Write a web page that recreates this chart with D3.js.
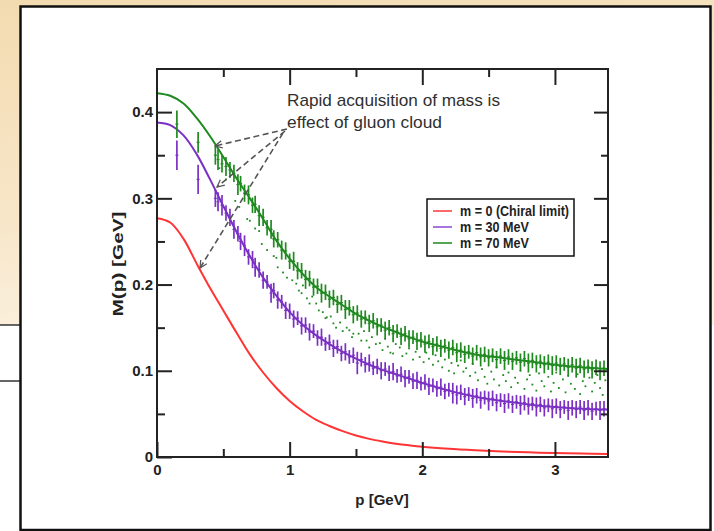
<!DOCTYPE html>
<html>
<head>
<meta charset="utf-8">
<script src="https://cdn.jsdelivr.net/npm/d3@7"></script>
<style>
  html, body { margin: 0; padding: 0; background: #ffffff; }
  svg { display: block; }
  text { font-family: "Liberation Sans", Arial, sans-serif; }
</style>
</head>
<body>
<script>
// ---------- DATA ----------
// smooth DSE curves
const pCurve = [0,0.1,0.2,0.3,0.4,0.5,0.6,0.7,0.8,0.9,1.0,1.1,1.2,1.3,1.4,1.5,1.6,1.7,1.8,1.9,2.0,2.2,2.4,2.6,2.8,3.0,3.2,3.4];
const mChiral = [0.277,0.272,0.253,0.224,0.196,0.170,0.144,0.119,0.098,0.080,0.065,0.053,0.043,0.036,0.030,0.025,0.021,0.018,0.0155,0.0135,0.0118,0.0095,0.0078,0.0064,0.0054,0.0046,0.0040,0.0035];
const m30 = [0.388,0.385,0.373,0.351,0.322,0.291,0.261,0.233,0.208,0.187,0.168,0.153,0.141,0.131,0.122,0.114,0.107,0.101,0.096,0.091,0.086,0.077,0.070,0.065,0.061,0.058,0.056,0.055];
const m70 = [0.422,0.419,0.410,0.393,0.372,0.348,0.323,0.300,0.276,0.251,0.230,0.212,0.197,0.186,0.176,0.166,0.158,0.151,0.145,0.139,0.134,0.126,0.119,0.115,0.111,0.107,0.104,0.102];

// lattice points (momentum shared by both masses)
const pLat = [0.15,0.31,0.44,0.46,0.49,0.52,0.55,0.58,0.61,0.63,0.66,0.69,0.72,0.74,0.77,0.80,0.83,0.86,0.88,0.91,0.94,0.97,1.00,1.03,1.06,1.09,1.12,1.15,1.18,1.21,1.24,1.27,1.30,1.33,1.36,1.39,1.42,1.45,1.48,1.51,1.54,1.57,1.60,1.63,1.66,1.69,1.72,1.75,1.78,1.81,1.84,1.87,1.90,1.93,1.96,1.99,2.02,2.05,2.08,2.11,2.14,2.17,2.20,2.23,2.26,2.29,2.32,2.35,2.38,2.41,2.44,2.47,2.50,2.53,2.56,2.59,2.62,2.65,2.68,2.71,2.74,2.77,2.80,2.83,2.86,2.89,2.92,2.95,2.98,3.01,3.04,3.07,3.10,3.13,3.16,3.19,3.22,3.25,3.28,3.31,3.34,3.37];
const lat30 = [0.350,0.322,0.300,0.296,0.292,0.283,0.278,0.264,0.259,0.250,0.245,0.232,0.229,0.220,0.217,0.205,0.203,0.190,0.193,0.182,0.180,0.170,0.169,0.160,0.161,0.152,0.153,0.145,0.146,0.138,0.139,0.131,0.133,0.126,0.128,0.120,0.122,0.116,0.118,0.109,0.113,0.107,0.109,0.103,0.105,0.100,0.102,0.097,0.099,0.094,0.096,0.091,0.093,0.088,0.089,0.085,0.087,0.082,0.083,0.079,0.081,0.076,0.078,0.074,0.072,0.075,0.070,0.073,0.068,0.071,0.066,0.069,0.065,0.068,0.063,0.066,0.062,0.065,0.061,0.064,0.060,0.063,0.059,0.062,0.058,0.061,0.057,0.060,0.056,0.059,0.055,0.058,0.054,0.057,0.055,0.058,0.054,0.057,0.053,0.056,0.054,0.056];
const err30 = [0.017,0.017,0.010,0.011,0.012,0.009,0.010,0.011,0.009,0.010,0.012,0.009,0.010,0.011,0.009,0.010,0.008,0.011,0.009,0.010,0.008,0.010,0.009,0.010,0.008,0.010,0.009,0.010,0.008,0.009,0.010,0.008,0.009,0.010,0.008,0.009,0.010,0.008,0.009,0.013,0.008,0.009,0.010,0.008,0.009,0.010,0.008,0.009,0.010,0.008,0.009,0.010,0.008,0.009,0.010,0.008,0.009,0.010,0.008,0.009,0.010,0.009,0.008,0.012,0.011,0.009,0.010,0.008,0.011,0.009,0.010,0.008,0.011,0.009,0.010,0.008,0.011,0.009,0.010,0.008,0.011,0.009,0.010,0.008,0.011,0.009,0.010,0.008,0.011,0.009,0.010,0.008,0.011,0.009,0.010,0.008,0.011,0.009,0.010,0.008,0.011,0.009];
const lat70 = [0.386,0.365,0.350,0.345,0.340,0.337,0.333,0.329,0.316,0.317,0.306,0.304,0.292,0.293,0.280,0.278,0.266,0.264,0.253,0.252,0.240,0.239,0.227,0.227,0.216,0.216,0.206,0.207,0.197,0.198,0.190,0.191,0.183,0.185,0.177,0.179,0.171,0.173,0.165,0.167,0.160,0.162,0.155,0.158,0.151,0.153,0.147,0.150,0.143,0.146,0.140,0.143,0.137,0.139,0.134,0.136,0.131,0.134,0.128,0.131,0.126,0.129,0.124,0.127,0.121,0.124,0.119,0.122,0.117,0.121,0.116,0.119,0.115,0.118,0.113,0.117,0.112,0.116,0.111,0.115,0.110,0.114,0.109,0.112,0.108,0.111,0.107,0.110,0.106,0.109,0.105,0.108,0.104,0.107,0.103,0.106,0.102,0.105,0.101,0.104,0.100,0.103];
const err70 = [0.016,0.012,0.011,0.012,0.010,0.011,0.009,0.010,0.012,0.009,0.010,0.011,0.009,0.010,0.012,0.010,0.009,0.011,0.010,0.009,0.011,0.010,0.009,0.011,0.010,0.009,0.011,0.009,0.010,0.009,0.011,0.009,0.010,0.009,0.010,0.009,0.011,0.009,0.010,0.009,0.010,0.008,0.010,0.009,0.010,0.008,0.010,0.009,0.010,0.008,0.010,0.009,0.010,0.008,0.010,0.009,0.010,0.008,0.010,0.009,0.010,0.008,0.010,0.009,0.011,0.009,0.010,0.008,0.010,0.009,0.011,0.009,0.010,0.008,0.010,0.009,0.011,0.009,0.010,0.008,0.010,0.009,0.011,0.009,0.010,0.008,0.010,0.009,0.011,0.009,0.010,0.008,0.010,0.009,0.011,0.009,0.010,0.008,0.010,0.009,0.011,0.009];

// additional green lattice points drawn as small dots
const dotP = [0.47,0.52,0.59,0.62,0.68,0.70,0.74,0.77,0.79,0.83,0.88,0.90,0.91,0.95,0.98,1.02,1.05,1.07,1.09,1.10,1.13,1.15,1.17,1.20,1.22,1.25,1.27,1.28,1.31,1.33,1.35,1.38,1.40,1.43,1.45,1.47,1.48,1.52,1.54,1.56,1.58,1.60,1.62,1.65,1.68,1.70,1.72,1.74,1.76,1.78,1.80,1.83,1.85,1.88,1.90,1.93,1.95,1.98,2.01,2.03,2.05,2.08,2.10,2.12,2.15,2.17,2.20,2.22,2.24,2.27,2.29,2.31,2.33,2.36,2.38,2.40,2.42,2.45,2.47,2.49,2.52,2.54,2.56,2.58,2.61,2.63,2.65,2.67,2.70,2.72,2.74,2.77,2.79,2.81,2.83,2.86,2.88,2.90,2.92,2.95,2.97,2.99,3.01,3.03,3.06,3.08,3.10,3.12,3.15,3.17,3.19,3.21,3.23,3.26,3.28,3.30,3.32,3.34,3.36,3.38];
const dotM = [0.335,0.322,0.297,0.290,0.276,0.274,0.265,0.262,0.247,0.240,0.233,0.231,0.220,0.214,0.208,0.205,0.201,0.193,0.190,0.199,0.184,0.178,0.186,0.178,0.170,0.168,0.161,0.162,0.163,0.155,0.150,0.156,0.146,0.150,0.147,0.139,0.143,0.143,0.135,0.146,0.135,0.127,0.139,0.131,0.132,0.124,0.137,0.128,0.121,0.120,0.131,0.127,0.117,0.120,0.126,0.113,0.122,0.116,0.110,0.121,0.114,0.107,0.118,0.111,0.104,0.113,0.100,0.109,0.097,0.106,0.112,0.099,0.103,0.094,0.108,0.098,0.089,0.102,0.093,0.085,0.099,0.090,0.104,0.083,0.095,0.088,0.098,0.081,0.092,0.086,0.100,0.079,0.090,0.095,0.084,0.077,0.097,0.088,0.082,0.093,0.076,0.086,0.098,0.080,0.090,0.075,0.094,0.085,0.079,0.096,0.073,0.088,0.082,0.092,0.076,0.086,0.095,0.080,0.072,0.089];

const xTicks = [0, 1, 2, 3];
const xMinor = [0.5, 1.5, 2.5];
const yTicks = [0, 0.1, 0.2, 0.3, 0.4];
const yMinor = [0.05, 0.15, 0.25, 0.35];
const legendLabels = ["m = 0 (Chiral limit)", "m = 30 MeV", "m = 70 MeV"];
const annotationLines = ["Rapid acquisition of mass is", "effect of gluon cloud"];

// ---------- DRAWING ----------
const W = 714, H = 531;
const svg = d3.select("body").append("svg").attr("width", W).attr("height", H);
const defs = svg.append("defs");

const bg = defs.append("linearGradient").attr("id", "parch").attr("x1", 0).attr("y1", 0).attr("x2", 0.35).attr("y2", 1);
bg.append("stop").attr("offset", "0%").attr("stop-color", "#f3dbb0");
bg.append("stop").attr("offset", "60%").attr("stop-color", "#f7e6c8");
bg.append("stop").attr("offset", "100%").attr("stop-color", "#fcf2e2");

svg.append("rect").attr("x", 0).attr("y", 0).attr("width", W).attr("height", 325).attr("fill", "url(#parch)");
svg.append("rect").attr("x", 0).attr("y", 325).attr("width", W).attr("height", H - 325).attr("fill", "#ffffff");
svg.append("line").attr("x1", 0).attr("x2", 20).attr("y1", 325).attr("y2", 325).attr("stroke", "#333").attr("stroke-width", 1.5);
svg.append("line").attr("x1", 0).attr("x2", 20).attr("y1", 381).attr("y2", 381).attr("stroke", "#333").attr("stroke-width", 1.5);

// white panel
svg.append("rect").attr("x", 20.5).attr("y", 6.5).attr("width", 690).attr("height", 523.5)
  .attr("fill", "#ffffff").attr("stroke", "#111").attr("stroke-width", 2.5);

const x = d3.scaleLinear().domain([0, 3.4]).range([157, 608]);
const y = d3.scaleLinear().domain([0, 0.45]).range([457, 69]);

defs.append("clipPath").attr("id", "plotclip").append("rect")
  .attr("x", 157).attr("y", 69).attr("width", 451).attr("height", 388);

const colRed = "#ff3434", colPurple = "#7b30c4", colGreen = "#1f8a1f";

const plot = svg.append("g").attr("clip-path", "url(#plotclip)");

// green dots
plot.append("g").selectAll("rect").data(dotP).join("rect")
  .attr("x", (d) => x(d) - 0.9).attr("y", (d, i) => y(dotM[i]) - 0.9)
  .attr("width", 1.8).attr("height", 1.8).attr("fill", colGreen);

const line = d3.line().x((d) => x(d[0])).y((d) => y(d[1])).curve(d3.curveCatmullRom.alpha(0.5));
const curves = [[mChiral, colRed], [m30, colPurple], [m70, colGreen]];
curves.forEach(([vals, col]) => {
  plot.append("path").datum(pCurve.map((p, i) => [p, vals[i]]))
    .attr("d", line).attr("fill", "none").attr("stroke", col).attr("stroke-width", 2);
});

function errorBars(vals, errs, col) {
  const g = plot.append("g").attr("stroke", col);
  g.selectAll("line.e").data(pLat).join("line").attr("class", "e")
    .attr("x1", (d) => x(d)).attr("x2", (d) => x(d))
    .attr("y1", (d, i) => y(vals[i] - errs[i])).attr("y2", (d, i) => y(vals[i] + errs[i]))
    .attr("stroke-width", 1.7);
  g.selectAll("line.c").data(pLat).join("line").attr("class", "c")
    .attr("x1", (d) => x(d) - 1.5).attr("x2", (d) => x(d) + 1.5)
    .attr("y1", (d, i) => y(vals[i])).attr("y2", (d, i) => y(vals[i]))
    .attr("stroke-width", 1.2);
}
errorBars(lat30, err30, colPurple);
errorBars(lat70, err70, colGreen);

// axes
const axisStyle = (g) => {
  g.select(".domain").remove();
  g.selectAll(".tick line").attr("stroke", "#222").attr("stroke-width", 2);
  g.selectAll("text").attr("fill", "#222").attr("font-size", 15).attr("font-weight", "bold")
    .attr("font-family", "'Liberation Sans', Arial, sans-serif");
};
svg.append("g").attr("transform", "translate(0,457)")
  .call(d3.axisBottom(x).tickValues(xTicks).tickSize(-15).tickPadding(7).tickFormat(d3.format("d"))).call(axisStyle);
svg.append("g").attr("transform", "translate(0,457)")
  .call(d3.axisBottom(x).tickValues(xMinor).tickSize(-8).tickFormat("")).call(axisStyle);
svg.append("g").attr("transform", "translate(0,69)")
  .call(d3.axisTop(x).tickValues(xTicks.slice(1)).tickSize(-16).tickFormat("")).call(axisStyle);
svg.append("g").attr("transform", "translate(0,69)")
  .call(d3.axisTop(x).tickValues(xMinor).tickSize(-8).tickFormat("")).call(axisStyle);
svg.append("g").attr("transform", "translate(157,0)")
  .call(d3.axisLeft(y).tickValues(yTicks).tickSize(-15).tickPadding(4)
    .tickFormat((d) => (d === 0 ? "0" : d3.format(".1f")(d)))).call(axisStyle);
svg.append("g").attr("transform", "translate(157,0)")
  .call(d3.axisLeft(y).tickValues(yMinor).tickSize(-8).tickFormat("")).call(axisStyle);
svg.append("g").attr("transform", "translate(608,0)")
  .call(d3.axisRight(y).tickValues(yTicks.slice(1)).tickSize(-14).tickFormat("")).call(axisStyle);
svg.append("g").attr("transform", "translate(608,0)")
  .call(d3.axisRight(y).tickValues(yMinor).tickSize(-7).tickFormat("")).call(axisStyle);

svg.append("rect").attr("x", 157).attr("y", 69).attr("width", 451).attr("height", 388)
  .attr("fill", "none").attr("stroke", "#222").attr("stroke-width", 2);

// axis titles
svg.append("text").attr("x", 382).attr("y", 505).attr("text-anchor", "middle")
  .attr("font-size", 15).attr("font-weight", "bold").attr("fill", "#222").text("p [GeV]");
svg.append("text").attr("transform", "translate(123,264) rotate(-90)").attr("text-anchor", "middle")
  .attr("font-size", 15).attr("font-weight", "bold").attr("fill", "#222")
  .attr("textLength", 105).attr("lengthAdjust", "spacingAndGlyphs").text("M(p) [GeV]");

// annotation
const annLens = [213, 155];
annotationLines.forEach((t, i) => {
  svg.append("text").attr("x", 287).attr("y", 106 + i * 22).attr("font-size", 17).attr("fill", "#303030")
    .attr("textLength", annLens[i]).attr("lengthAdjust", "spacingAndGlyphs").text(t);
});

defs.append("marker").attr("id", "arr").attr("viewBox", "0 0 10 10").attr("refX", 9).attr("refY", 5)
  .attr("markerWidth", 9).attr("markerHeight", 9).attr("markerUnits", "userSpaceOnUse").attr("orient", "auto")
  .append("path").attr("d", "M1,1 L9,5 L1,9").attr("fill", "none").attr("stroke", "#555")
  .attr("stroke-width", 1.4).attr("stroke-dasharray", "none");

const arrows = [[287, 129, 215, 146], [285, 131, 217, 187], [283, 133, 200, 268]];
arrows.forEach((a) => {
  svg.append("line").attr("x1", a[0]).attr("y1", a[1]).attr("x2", a[2]).attr("y2", a[3])
    .attr("stroke", "#555").attr("stroke-width", 1.6).attr("stroke-dasharray", "6,3.5")
    .attr("marker-end", "url(#arr)");
});

// legend
const leg = svg.append("g");
leg.append("rect").attr("x", 427).attr("y", 199).attr("width", 147).attr("height", 57)
  .attr("fill", "#fff").attr("stroke", "#111").attr("stroke-width", 1.5);
const legCols = ["#ff4444", "#9355d6", "#2b8f2b"];
const legLens = [109, 69, 69];
legendLabels.forEach((t, i) => {
  const yy = 211 + i * 16;
  leg.append("line").attr("x1", 433).attr("x2", 452).attr("y1", yy).attr("y2", yy)
    .attr("stroke", legCols[i]).attr("stroke-width", 1.6);
  leg.append("text").attr("x", 460).attr("y", yy + 4.5).attr("font-size", 14).attr("font-weight", "bold")
    .attr("fill", "#222").attr("textLength", legLens[i]).attr("lengthAdjust", "spacingAndGlyphs").text(t);
});
</script>
</body>
</html>
